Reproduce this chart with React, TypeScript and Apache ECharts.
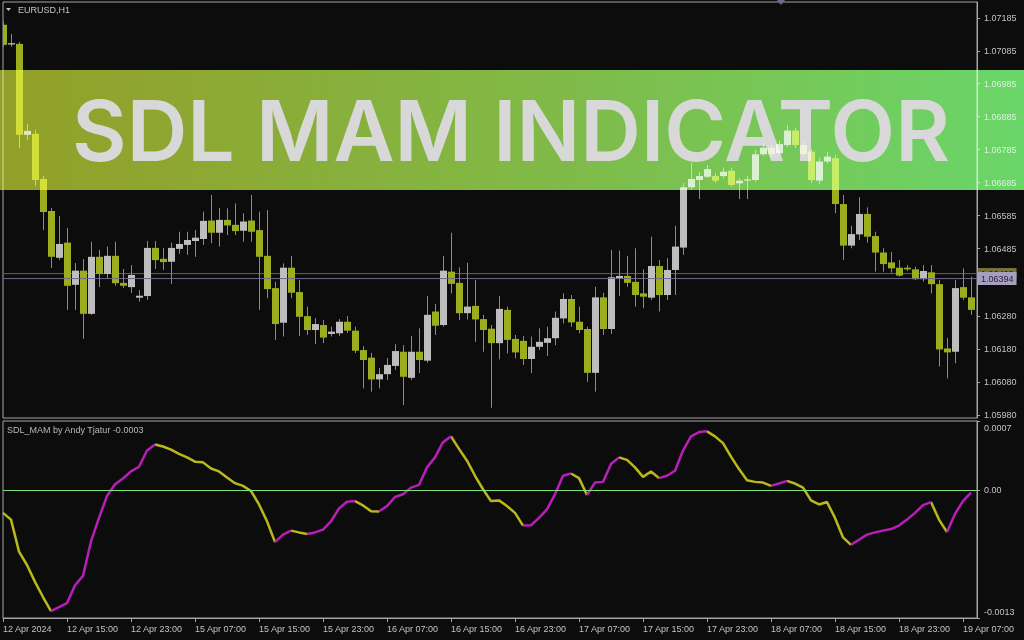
import { useEffect, useRef } from "react";
import * as echarts from "echarts";

// EURUSD H1, 12 Apr 2024 07:00 .. 19 Apr 2024 08:00 (122 bars)
const timeTicks = [
  "12 Apr 2024", "12 Apr 15:00", "12 Apr 23:00", "15 Apr 07:00", "15 Apr 15:00", "15 Apr 23:00",
  "16 Apr 07:00", "16 Apr 15:00", "16 Apr 23:00", "17 Apr 07:00", "17 Apr 15:00", "17 Apr 23:00",
  "18 Apr 07:00", "18 Apr 15:00", "18 Apr 23:00", "19 Apr 07:00",
];
const barsPerTick = 8;

const priceTicks = [
  1.0598, 1.0608, 1.0618, 1.0628, 1.06485, 1.06585, 1.06685, 1.06785, 1.06885, 1.06985, 1.07085, 1.07185,
];
const priceMin = 1.05971;
const priceMax = 1.07233;

const opens = [
  1.07164, 1.07104, 1.07106, 1.0683, 1.06833, 1.06696, 1.06599, 1.06457, 1.06503, 1.06375,
  1.06418, 1.06287, 1.0646, 1.06408, 1.06463, 1.06381, 1.06368, 1.06336, 1.06341, 1.06487,
  1.06454, 1.06445, 1.06484, 1.06496, 1.06508, 1.06514, 1.0657, 1.06533, 1.06572, 1.06557,
  1.06539, 1.0657, 1.06541, 1.06463, 1.06365, 1.0626, 1.06427, 1.06353, 1.0628, 1.06238,
  1.06253, 1.06226, 1.06228, 1.06263, 1.06236, 1.06177, 1.06154, 1.06088, 1.06104, 1.06129,
  1.06172, 1.06093, 1.06172, 1.06145, 1.06294, 1.06253, 1.06415, 1.06381, 1.06289, 1.06311,
  1.06271, 1.06242, 1.06198, 1.06299, 1.06211, 1.06205, 1.0615, 1.06187, 1.06199, 1.06213,
  1.06273, 1.06332, 1.06263, 1.06241, 1.06108, 1.06337, 1.06241, 1.06393, 1.06402, 1.06384,
  1.06349, 1.06336, 1.06432, 1.06344, 1.0642, 1.06488, 1.06671, 1.06693, 1.06703, 1.06705,
  1.06705, 1.06721, 1.06683, 1.06691, 1.06693, 1.06771, 1.06791, 1.06774, 1.06799, 1.06843,
  1.06799, 1.06779, 1.06691, 1.06749, 1.06759, 1.0662, 1.06494, 1.06528, 1.0659, 1.06523,
  1.06473, 1.06443, 1.06427, 1.06427, 1.06422, 1.06392, 1.06413, 1.06377, 1.06182, 1.06172,
  1.06368, 1.06337,
];
const highs = [
  1.07173, 1.07136, 1.07112, 1.06863, 1.06845, 1.06705, 1.06608, 1.06584, 1.06548, 1.06441,
  1.06453, 1.06506, 1.06481, 1.06491, 1.06506, 1.06423, 1.06435, 1.06359, 1.06508, 1.06508,
  1.06487, 1.06503, 1.06536, 1.06536, 1.06541, 1.06597, 1.06648, 1.06608, 1.06607, 1.06622,
  1.06592, 1.06648, 1.06597, 1.06602, 1.06384, 1.0644, 1.06463, 1.0639, 1.06309, 1.06274,
  1.06268, 1.06248, 1.06271, 1.0628, 1.06248, 1.06189, 1.06168, 1.06123, 1.06153, 1.06195,
  1.06192, 1.0622, 1.06243, 1.06341, 1.06317, 1.06463, 1.06533, 1.06428, 1.06442, 1.0639,
  1.06284, 1.06253, 1.06341, 1.06309, 1.06223, 1.0622, 1.06218, 1.06243, 1.06248, 1.06294,
  1.06349, 1.06344, 1.06309, 1.06248, 1.06369, 1.06351, 1.06481, 1.06479, 1.06463, 1.06486,
  1.06422, 1.06521, 1.0645, 1.06456, 1.06554, 1.06684, 1.06745, 1.06717, 1.06739, 1.06714,
  1.0673, 1.0673, 1.06699, 1.06705, 1.06784, 1.06806, 1.06799, 1.06812, 1.0686, 1.06851,
  1.06809, 1.06787, 1.0676, 1.06778, 1.06769, 1.06648, 1.06554, 1.06641, 1.0661, 1.06536,
  1.06486, 1.06475, 1.0645, 1.06435, 1.0643, 1.06435, 1.06435, 1.0639, 1.06214, 1.0639,
  1.06425, 1.064,
];
const lows = [
  1.07097, 1.07097, 1.0679, 1.06815, 1.06675, 1.06541, 1.06426, 1.0645, 1.06299, 1.06299,
  1.06211, 1.06284, 1.06368, 1.06393, 1.06372, 1.06365, 1.0635, 1.06324, 1.06329, 1.06423,
  1.0642, 1.06378, 1.06469, 1.06466, 1.0646, 1.06496, 1.06501, 1.06491, 1.06526, 1.06526,
  1.06506, 1.06506, 1.06299, 1.06334, 1.06208, 1.06218, 1.06334, 1.0622, 1.06223, 1.06195,
  1.06198, 1.06218, 1.0622, 1.06229, 1.06168, 1.06061, 1.06051, 1.06061, 1.06086, 1.06117,
  1.0601, 1.06086, 1.06107, 1.06139, 1.06223, 1.06248, 1.06349, 1.06268, 1.0627, 1.06202,
  1.06172, 1.06002, 1.06149, 1.06167, 1.06152, 1.06132, 1.06107, 1.06177, 1.06159, 1.06192,
  1.06258, 1.06248, 1.06228, 1.06081, 1.06051, 1.06223, 1.06226, 1.06341, 1.06369, 1.06309,
  1.06304, 1.06329, 1.06294, 1.06329, 1.06344, 1.06466, 1.06663, 1.06635, 1.06699, 1.06684,
  1.06699, 1.06672, 1.06635, 1.06635, 1.06687, 1.06766, 1.06763, 1.06769, 1.06793, 1.0679,
  1.06763, 1.06684, 1.06681, 1.06742, 1.06592, 1.0645, 1.06486, 1.06511, 1.06503, 1.06415,
  1.06415, 1.06412, 1.064, 1.06417, 1.0639, 1.06385, 1.06349, 1.06127, 1.06091, 1.06137,
  1.06329, 1.06284,
];
const closes = [
  1.07103, 1.07108, 1.0683, 1.06842, 1.06693, 1.06596, 1.0646, 1.06499, 1.06372, 1.06418,
  1.06287, 1.0646, 1.06408, 1.06463, 1.0638, 1.06372, 1.06405, 1.06342, 1.06487, 1.0645,
  1.06444, 1.06487, 1.06499, 1.06511, 1.06518, 1.06569, 1.06533, 1.06572, 1.06555, 1.06538,
  1.06567, 1.06536, 1.0646, 1.06362, 1.06256, 1.06427, 1.06351, 1.06278, 1.06238, 1.06256,
  1.06215, 1.06233, 1.06263, 1.06236, 1.06175, 1.06147, 1.06088, 1.06104, 1.06132, 1.06174,
  1.06096, 1.06172, 1.06147, 1.06284, 1.06251, 1.06418, 1.06378, 1.06289, 1.06309, 1.0627,
  1.06238, 1.06198, 1.06302, 1.06208, 1.0617, 1.0615, 1.06187, 1.06202, 1.06213, 1.06275,
  1.06332, 1.06261, 1.06238, 1.06108, 1.06337, 1.06241, 1.06398, 1.06402, 1.06381, 1.06344,
  1.06339, 1.06432, 1.06344, 1.0642, 1.06491, 1.06671, 1.06696, 1.06705, 1.06726, 1.06691,
  1.06718, 1.06678, 1.06691, 1.06695, 1.06771, 1.06791, 1.06771, 1.06802, 1.06843, 1.06799,
  1.06772, 1.06693, 1.06749, 1.06764, 1.0662, 1.06494, 1.06529, 1.0659, 1.06521, 1.06473,
  1.06438, 1.06425, 1.06403, 1.06422, 1.06392, 1.06417, 1.06377, 1.06179, 1.0617, 1.06365,
  1.06336, 1.06299,
];

const bidPrice = 1.06394;
const askPrice = 1.06409;

// SDL_MAM oscillator readings, one per bar
const sdlMam = [
  -0.000233, -0.000301, -0.000626, -0.000762, -0.000933, -0.001087, -0.001231, -0.00119, -0.001149, -0.000967,
  -0.000872, -0.000523, -0.000284, -0.000062, 0.000058, 0.000116, 0.000188, 0.000236, 0.0004, 0.000462,
  0.000441, 0.00041, 0.000366, 0.000331, 0.000287, 0.00028, 0.000218, 0.000188, 0.000126, 0.000069,
  0.000041, -0.00001, -0.000147, -0.000318, -0.00053, -0.000454, -0.000413, -0.000431, -0.000448, -0.000431,
  -0.000403, -0.000318, -0.000188, -0.00012, -0.000113, -0.000157, -0.000215, -0.000218, -0.000164, -0.000072,
  -0.000044, 0.000024, 0.000051, 0.000229, 0.000331, 0.000485, 0.000544, 0.000417, 0.000297, 0.000144,
  0.000007, -0.000113, -0.000106, -0.000164, -0.000233, -0.000362, -0.000358, -0.000284, -0.000198, -0.000044,
  0.000144, 0.000167, 0.00012, -0.000051, 0.000075, 0.000082, 0.000264, 0.000331, 0.000305, 0.000229,
  0.000133, 0.000188, 0.00012, 0.000144, 0.000195, 0.0004, 0.000544, 0.000588, 0.000595, 0.000544,
  0.000475, 0.000338, 0.000212, 0.000099, 0.000082, 0.000075, 0.000041, 0.000065, 0.000092, 0.000065,
  0.000024, -0.000106, -0.000147, -0.000123, -0.000284, -0.000482, -0.000557, -0.000506, -0.000454, -0.000431,
  -0.000413, -0.000397, -0.000362, -0.000301, -0.000233, -0.000154, -0.000123, -0.000301, -0.000428, -0.000243,
  -0.000113, -0.000028,
];
// bar ranges (inclusive) where the oscillator is painted in its rising colour
const upRuns = [
  [6, 19], [34, 36], [38, 44], [47, 56], [65, 71], [73, 77], [82, 88], [96, 98], [106, 116], [118, 121],
];
const oscMin = -0.0013;
const oscMax = 0.0007;
const oscTicks = [-0.0013, 0, 0.0007];

const BG = "#0c0c0c";
const FRAME = "#a4a4a4";
const TEXT = "#c4c2ca";
const BULL = "#bebebe";
const BEAR = "#9cad1e";
const WICK = "#8a8a8a";
const OSC_UP = "#b81fb8";
const OSC_DOWN = "#b9b91c";
const FONT = "Liberation Sans";
const X_MAX = 121.75;

const layer: React.CSSProperties = { position: "fixed", left: 0, top: 0, width: 1024, height: 640 };

export default function App() {
  const ref = useRef<HTMLDivElement>(null);
  const bannerRef = useRef<HTMLDivElement>(null);

  useEffect(() => {
    const chart = echarts.init(ref.current!, null, { renderer: "svg" });
    const banner = echarts.init(bannerRef.current!, null, { renderer: "svg" });

    const candleData = closes.map((c, i) => [i, opens[i], c, lows[i], highs[i]]);

    const inUpRun = (i: number) => upRuns.some(([a, b]) => i >= a && i <= b);
    const inUpInterior = (i: number) => upRuns.some(([a, b]) => i > a && i < b);
    const upData = sdlMam.map((v, i) => [i, inUpRun(i) ? v : null]);
    const downData = sdlMam.map((v, i) => [i, inUpInterior(i) ? null : v]);

    const priceLine = (
      name: string,
      price: number,
      stroke: string,
      fill: string,
      text: string,
      padding: number[],
      z: number,
    ) => ({
      type: "line",
      name,
      xAxisIndex: 0,
      yAxisIndex: 0,
      data: [[0, price], [X_MAX, price]],
      showSymbol: false,
      silent: true,
      lineStyle: { color: stroke, width: 1 },
      endLabel: {
        show: true,
        distance: 1,
        formatter: () => price.toFixed(5),
        backgroundColor: fill,
        color: text,
        fontSize: 9,
        lineHeight: 9,
        fontFamily: FONT,
        padding,
      },
      z,
    });

    const noZero = { onZero: false };

    chart.setOption({
      animation: false,
      backgroundColor: BG,
      textStyle: { fontFamily: FONT },
      grid: [
        { left: 3, right: 47, top: 2, height: 416, show: true, borderColor: FRAME, borderWidth: 1, backgroundColor: "transparent", outerBoundsMode: "none" },
        { left: 3, right: 47, top: 421, height: 197, show: true, borderColor: FRAME, borderWidth: 1, backgroundColor: "transparent", outerBoundsMode: "none" },
      ],
      xAxis: [
        { type: "value", gridIndex: 0, min: 0, max: X_MAX, show: false, axisLine: noZero },
        {
          type: "value",
          gridIndex: 1,
          position: "bottom",
          min: 0,
          max: X_MAX,
          interval: barsPerTick,
          axisLine: { show: true, onZero: false, lineStyle: { color: FRAME } },
          axisTick: { show: true, length: 4, lineStyle: { color: FRAME } },
          splitLine: { show: false },
          axisLabel: {
            color: TEXT,
            fontSize: 9,
            fontFamily: FONT,
            align: "left",
            margin: 6,
            showMaxLabel: false,
            formatter: (v: number) => (v % barsPerTick === 0 ? timeTicks[v / barsPerTick] ?? "" : ""),
          },
        },
      ],
      yAxis: [
        {
          type: "value",
          gridIndex: 0,
          position: "right",
          min: priceMin,
          max: priceMax,
          splitLine: { show: false },
          axisLine: { show: true, onZero: false, lineStyle: { color: FRAME } },
          axisTick: { show: true, length: 3, lineStyle: { color: FRAME }, customValues: priceTicks },
          axisLabel: {
            color: TEXT,
            fontSize: 9,
            fontFamily: FONT,
            margin: 7,
            customValues: priceTicks,
            formatter: (v: number) => v.toFixed(5),
          },
        },
        {
          type: "value",
          gridIndex: 1,
          position: "right",
          min: oscMin,
          max: oscMax,
          splitLine: { show: false },
          axisLine: { show: true, onZero: false, lineStyle: { color: FRAME } },
          axisTick: { show: true, length: 3, lineStyle: { color: FRAME }, customValues: oscTicks },
          axisLabel: {
            color: TEXT,
            fontSize: 9,
            fontFamily: FONT,
            margin: 7,
            customValues: oscTicks,
            formatter: (v: number) => {
              if (Math.abs(v) < 1e-9) return "{mid|0.00}";
              if (v > 0) return `{hi|${v.toFixed(4)}}`;
              return `{lo|${v.toFixed(4)}}`;
            },
            rich: {
              mid: { color: TEXT, fontSize: 9, fontFamily: FONT },
              hi: { color: TEXT, fontSize: 9, fontFamily: FONT, padding: [14, 0, 0, 0] },
              lo: { color: TEXT, fontSize: 9, fontFamily: FONT, padding: [0, 0, 13, 0] },
            },
          },
        },
      ],
      series: [
        {
          type: "custom",
          name: "EURUSD,H1",
          xAxisIndex: 0,
          yAxisIndex: 0,
          clip: true,
          encode: { x: 0, y: [1, 2, 3, 4] },
          data: candleData,
          renderItem: (_params: any, api: any) => {
            const x = api.value(0);
            const o = api.value(1);
            const c = api.value(2);
            const pO = api.coord([x, o]);
            const pC = api.coord([x, c]);
            const pL = api.coord([x, api.value(3)]);
            const pH = api.coord([x, api.value(4)]);
            const cx = Math.round(pO[0]);
            const top = Math.min(pO[1], pC[1]);
            const bh = Math.max(1.2, Math.abs(pO[1] - pC[1]));
            return {
              type: "group",
              children: [
                {
                  type: "line",
                  shape: { x1: cx + 0.5, y1: pH[1], x2: cx + 0.5, y2: pL[1] },
                  style: { stroke: WICK, lineWidth: 1 },
                },
                {
                  type: "rect",
                  shape: { x: cx - 3, y: top, width: 7, height: bh },
                  style: { fill: c > o ? BULL : BEAR },
                },
              ],
            };
          },
          z: 3,
        },
        priceLine("Ask", askPrice, "#6f6a2c", "#77713a", "#1c1b0c", [1, 3, 1, 3], 2),
        priceLine("Bid", bidPrice, "#6d6890", "#a69fbe", "#2a2140", [2, 3, 2, 3], 4),
        {
          type: "line",
          name: "SDL_MAM falling",
          xAxisIndex: 1,
          yAxisIndex: 1,
          data: downData,
          showSymbol: false,
          connectNulls: false,
          lineStyle: { color: OSC_DOWN, width: 2.5 },
          markLine: {
            silent: true,
            symbol: ["none", "none"],
            label: { show: false },
            lineStyle: { color: "#7fe07a", width: 1, type: "solid" },
            data: [{ yAxis: 0 }],
          },
          z: 3,
        },
        {
          type: "line",
          name: "SDL_MAM rising",
          xAxisIndex: 1,
          yAxisIndex: 1,
          data: upData,
          showSymbol: false,
          connectNulls: false,
          lineStyle: { color: OSC_UP, width: 2.5 },
          z: 4,
        },
      ],
      graphic: [
        { type: "polygon", shape: { points: [[6, 8], [11, 8], [8.5, 11]] }, style: { fill: TEXT }, z: 20 },
        {
          type: "text",
          x: 18,
          y: 10,
          style: { text: "EURUSD,H1", fill: TEXT, font: `9px '${FONT}'`, verticalAlign: "middle" },
          z: 20,
        },
        { type: "polygon", shape: { points: [[777, 0], [785, 0], [781, 5]] }, style: { fill: "#74678e" }, z: 20 },
        {
          type: "text",
          x: 7,
          y: 430,
          style: { text: "SDL_MAM by Andy Tjatur -0.0003", fill: "#b8b8b8", font: `9px '${FONT}'`, verticalAlign: "middle" },
          z: 20,
        },
      ],
    });

    // Title band, composited over the chart with a screen blend
    banner.setOption({
      animation: false,
      backgroundColor: "transparent",
      graphic: [
        {
          type: "rect",
          shape: { x: 0, y: 70, width: 1024, height: 120 },
          style: {
            fill: new echarts.graphic.LinearGradient(0, 0, 1, 0, [
              { offset: 0, color: "#8e9a1d" },
              { offset: 0.5, color: "#7cb43c" },
              { offset: 1, color: "#63d462" },
            ]),
          },
          z: 1,
        },
        {
          type: "text",
          x: 511,
          y: 130,
          style: {
            text: "SDL MAM INDICATOR",
            fill: "#d6d6d6",
            font: "600 84px Inter",
            align: "center",
            verticalAlign: "middle",
          },
          z: 2,
        },
      ],
    });

    return () => {
      banner.dispose();
      chart.dispose();
    };
  }, []);

  return (
    <div style={{ ...layer, background: BG }}>
      <div ref={ref} style={layer} />
      <div ref={bannerRef} style={{ ...layer, pointerEvents: "none", mixBlendMode: "screen" }} />
    </div>
  );
}
